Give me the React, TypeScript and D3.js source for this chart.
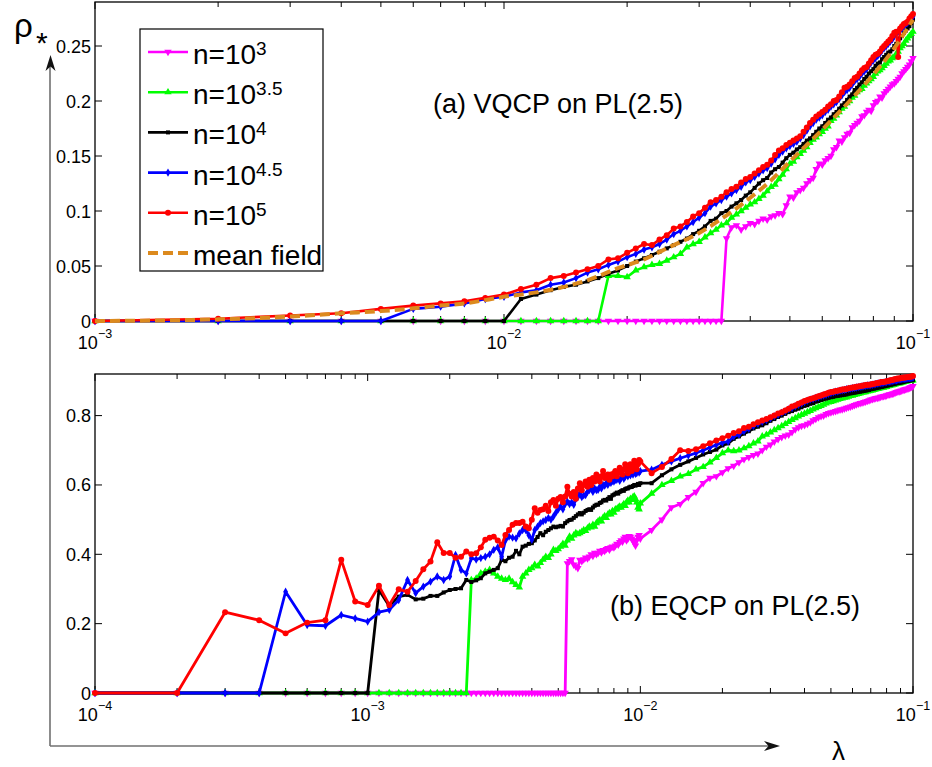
import React from "react";
import * as d3 from "d3";

// ---------- data ----------
// panel (a) lambda grid, in units of 1e-3
const lambdaA_e3 = [1,2,3,4,5,6,7,8,9,10,11,12,13,14,15,16,17,18,19,20,21,22,23,24,25,26,27,28,29,30,31,32,33,34,35,36,37,38,39,40,41,42,43,44,45,46,47,48,49,50,51,52,53,54,55,56,57,58,59,60,61,62,63,64,65,66,67,68,69,70,71,72,73,74,75,76,77,78,79,80,81,82,83,84,85,86,87,88,89,90,91,92,93,94,95,96,97,98,99,100];
// panel (b) lambda grid, in units of 1e-4
const lambdaB_e4 = [1,2,3,4,5,6,7,8,9,10,11,12,13,14,15,16,17,18,19,20,21,22,23,24,25,26,27,28,29,30,31,32,33,34,35,36,37,38,39,40,41,42,43,44,45,46,47,48,49,50,51,52,53,54,55,56,57,58,59,60,61,62,63,64,65,66,67,68,69,70,71,72,73,74,75,76,77,78,79,80,81,82,83,84,85,86,87,88,89,90,91,92,93,94,95,96,97,98,99,100,
  110,120,130,140,150,160,170,180,190,200,210,220,230,240,250,260,270,280,290,300,310,320,330,340,350,360,370,380,390,400,410,420,430,440,450,460,470,480,490,500,510,520,530,540,550,560,570,580,590,600,610,620,630,640,650,660,670,680,690,700,710,720,730,740,750,760,770,780,790,800,810,820,830,840,850,860,870,880,890,900,910,920,930,940,950,960,970,980,990,1000];

const seriesLabels = ["3", "3.5", "4", "4.5", "5"];

// (a) VQCP
const rhoA_n3 = [0,0,0,0,0,0,0,0,0,0,0,0,0,0,0,0,0,0,0,0,0,0,0,0,0,0,0,0,0,0,0,0,0,0,
  0.075,0.085,0.087,0.083,0.086,0.089,0.088,0.091,0.093,0.092,
  0.095,0.096,0.098,0.097,0.105,0.113,0.112,0.117,0.119,0.121,
  0.125,0.128,0.13,0.138,0.143,0.142,0.146,0.148,0.15,0.156,
  0.158,0.164,0.163,0.167,0.17,0.171,0.176,0.178,0.18,0.182,
  0.186,0.187,0.19,0.192,0.191,0.196,0.199,0.2,0.204,0.203,
  0.207,0.209,0.211,0.213,0.215,0.216,0.218,0.22,0.222,0.225,
  0.227,0.229,0.231,0.233,0.236,0.239];
const rhoA_n35 = [0,0,0,0,0,0,0,0,0,0,0,0,0,0,0,0,0,
  0.041,0.041,0.040,0.046,0.049,0.051,0.052,0.055,0.058,0.061,
  0.067,0.070,0.072,0.076,0.080,0.083,0.087,0.089,0.094,0.097,
  0.100,0.103,0.106,0.108,0.111,0.114,0.118,0.122,0.124,0.129,
  0.133,0.138,0.143,0.145,0.149,0.152,0.155,0.158,0.162,0.165,
  0.167,0.170,0.172,0.175,0.177,0.182,0.184,0.187,0.190,0.193,
  0.195,0.198,0.200,0.203,0.205,0.208,0.210,0.211,0.214,0.216,
  0.218,0.220,0.222,0.225,0.227,0.228,0.230,0.232,0.234,0.236,
  0.237,0.239,0.240,0.243,0.245,0.248,0.250,0.252,0.255,0.257,
  0.259,0.261,0.263];
const rhoA_n4 = [0,0,0,0,0,0,0,0,0,0,
  0.020,0.024,0.028,0.031,0.033,0.036,0.039,0.043,0.046,0.050,
  0.054,0.057,0.060,0.063,0.066,0.069,0.072,0.075,0.079,0.082,
  0.086,0.091,0.093,0.098,0.100,0.104,0.107,0.110,0.114,0.117,
  0.121,0.125,0.128,0.130,0.135,0.138,0.140,0.144,0.148,0.151,
  0.153,0.156,0.158,0.161,0.164,0.166,0.169,0.172,0.175,0.177,
  0.180,0.183,0.185,0.188,0.190,0.193,0.196,0.198,0.201,0.204,
  0.206,0.210,0.212,0.215,0.217,0.220,0.222,0.225,0.227,0.229,
  0.232,0.234,0.235,0.238,0.240,0.242,0.244,0.245,0.247,0.250,
  0.252,0.255,0.257,0.259,0.262,0.264,0.266,0.268,0.271,0.274];
const rhoA_n45 = [0,0,0,0,0,
  0.011,0.013,0.016,0.020,0.022,0.026,0.028,0.033,0.035,0.039,
  0.044,0.047,0.051,0.054,0.058,0.061,0.065,0.067,0.070,0.074,
  0.079,0.082,0.086,0.090,0.094,0.098,0.104,0.107,0.110,0.113,
  0.116,0.119,0.122,0.126,0.128,0.131,0.134,0.137,0.139,0.143,
  0.147,0.151,0.154,0.157,0.159,0.161,0.163,0.166,0.169,0.173,
  0.177,0.180,0.183,0.185,0.187,0.190,0.192,0.195,0.197,0.199,
  0.202,0.205,0.208,0.210,0.212,0.215,0.218,0.220,0.222,0.225,
  0.227,0.229,0.232,0.235,0.237,0.239,0.241,0.243,0.246,0.248,
  0.250,0.252,0.254,0.256,0.259,0.261,0.263,0.264,0.266,0.268,
  0.270,0.271,0.273,0.275,0.277];
const rhoA_n5 = [0,0.002,0.005,0.007,0.011,0.014,0.016,0.018,0.021,0.024,
  0.029,0.033,0.039,0.041,0.044,0.047,0.050,0.056,0.057,0.062,
  0.066,0.070,0.069,0.074,0.078,0.084,0.086,0.090,0.095,0.098,
  0.103,0.108,0.110,0.113,0.117,0.120,0.122,0.126,0.129,0.131,
  0.134,0.137,0.140,0.142,0.146,0.151,0.155,0.157,0.160,0.162,
  0.164,0.166,0.168,0.172,0.176,0.180,0.183,0.186,0.188,0.190,
  0.192,0.195,0.197,0.200,0.201,0.204,0.208,0.212,0.213,0.215,
  0.218,0.221,0.222,0.225,0.228,0.230,0.231,0.234,0.237,0.240,
  0.242,0.243,0.245,0.248,0.250,0.252,0.254,0.256,0.259,0.262,
  0.263,0.240,0.266,0.268,0.270,0.271,0.272,0.275,0.277,0.279];

const meanFieldLambda = [0.001,0.002,0.003,0.004,0.005,0.006,0.007,0.008,0.009,0.01,0.012,0.014,0.016,0.019,0.022,0.025,0.03,0.035,0.04,0.045,0.05,0.06,0.07,0.08,0.09,0.1];
const meanFieldRho = [0,0.0015,0.004,0.007,0.009,0.0115,0.014,0.016,0.019,0.022,0.026,0.031,0.037,0.048,0.056,0.066,0.08,0.096,0.112,0.128,0.145,0.174,0.2,0.224,0.248,0.274];

// (b) EQCP
const rhoB_n3 = [0,0,0,0,0,0,0,0,0,
  0,0,0,0,0,0,0,0,0,0,0,0,0,0,0,0,0,0,0,0,0,0,0,0,0,0,0,0,0,0,0,0,0,0,0,0,0,0,0,0,0,0,0,0,
  0.374,0.38,0.385,0.37,0.365,0.36,0.384,0.38,0.385,0.39,
  0.388,0.393,0.40,0.395,0.404,0.40,0.404,0.41,0.405,0.412,
  0.41,0.415,0.418,0.413,0.42,0.422,0.42,0.425,0.43,0.428,
  0.435,0.44,0.436,0.445,0.45,0.44,0.445,0.452,0.45,0.445,
  0.44,0.432,0.425,0.44,0.45,0.455,0.445,
  0.47,0.50,0.535,0.545,0.565,0.58,0.605,0.62,0.625,0.636,
  0.648,0.655,0.665,0.674,0.68,0.686,0.69,0.70,0.71,0.716,
  0.725,0.732,0.738,0.742,0.745,0.752,0.76,0.766,0.77,0.772,
  0.776,0.78,0.786,0.79,0.795,0.798,0.80,0.804,0.807,0.809,
  0.811,0.813,0.815,0.817,0.818,0.82,0.822,0.824,0.826,0.828,
  0.83,0.832,0.834,0.836,0.837,0.839,0.84,0.842,0.844,0.846,
  0.847,0.849,0.85,0.851,0.852,0.854,0.855,0.856,0.857,0.858,
  0.86,0.861,0.862,0.863,0.864,0.866,0.868,0.869,0.87,0.871,
  0.872,0.874,0.875,0.876,0.877,0.878,0.88,0.881,0.883,0.885];
const rhoB_n35 = [0,0,0,0,0,0,0,0,0,
  0,0,0,0,0,0,0,0,0,0,0,0,0,0,
  0.326,0.33,0.345,0.35,0.355,0.345,0.336,0.33,0.326,0.33,
  0.32,0.312,0.305,0.336,0.345,0.355,0.36,0.37,0.365,0.375,
  0.385,0.393,0.39,0.40,0.413,0.41,0.415,0.422,0.43,0.425,
  0.44,0.451,0.445,0.455,0.461,0.458,0.461,0.465,0.47,0.468,
  0.475,0.48,0.478,0.485,0.48,0.49,0.495,0.499,0.495,0.505,
  0.51,0.505,0.515,0.519,0.515,0.525,0.52,0.53,0.53,0.535,
  0.538,0.535,0.54,0.545,0.54,0.55,0.555,0.55,0.56,0.557,
  0.565,0.567,0.56,0.55,0.535,0.53,0.547,
  0.575,0.60,0.612,0.625,0.632,0.645,0.652,0.665,0.678,0.692,
  0.70,0.698,0.70,0.706,0.712,0.72,0.726,0.74,0.745,0.752,
  0.758,0.764,0.77,0.776,0.782,0.788,0.793,0.798,0.802,0.806,
  0.81,0.814,0.818,0.822,0.825,0.828,0.832,0.835,0.838,0.84,
  0.842,0.844,0.846,0.848,0.85,0.852,0.853,0.855,0.857,0.858,
  0.86,0.861,0.863,0.864,0.866,0.867,0.868,0.87,0.871,0.872,
  0.873,0.874,0.876,0.877,0.878,0.879,0.88,0.881,0.882,0.883,
  0.885,0.886,0.887,0.888,0.889,0.89,0.892,0.893,0.893,0.894,
  0.895,0.896,0.897,0.898,0.899,0.90,0.90,0.901,0.901,0.902];
const rhoB_n4 = [0,0,0,0,0,0,0,0,0,
  0,0.297,0.251,0.278,0.283,0.27,0.272,0.28,0.28,0.29,
  0.297,0.30,0.302,0.326,0.32,0.325,0.331,0.345,0.35,0.355,
  0.36,0.384,0.38,0.39,0.393,0.41,0.40,0.422,0.425,0.43,
  0.432,0.44,0.45,0.461,0.455,0.465,0.47,0.475,0.48,0.478,
  0.48,0.482,0.48,0.49,0.495,0.499,0.50,0.505,0.51,0.515,
  0.519,0.515,0.52,0.525,0.528,0.53,0.528,0.535,0.54,0.543,
  0.543,0.548,0.55,0.555,0.557,0.555,0.56,0.565,0.56,0.57,
  0.572,0.575,0.578,0.575,0.58,0.582,0.585,0.583,0.588,0.59,
  0.59,0.593,0.595,0.594,0.597,0.60,0.598,0.60,0.603,0.60,
  0.605,
  0.605,0.628,0.645,0.658,0.668,0.678,0.688,0.695,0.702,0.714,
  0.72,0.733,0.74,0.748,0.755,0.763,0.768,0.772,0.778,0.785,
  0.79,0.796,0.80,0.805,0.81,0.813,0.817,0.82,0.824,0.828,
  0.83,0.834,0.836,0.84,0.842,0.845,0.847,0.849,0.851,0.853,
  0.854,0.856,0.857,0.858,0.859,0.86,0.861,0.863,0.864,0.865,
  0.866,0.867,0.868,0.869,0.87,0.871,0.872,0.873,0.874,0.876,
  0.877,0.878,0.879,0.88,0.881,0.882,0.883,0.884,0.885,0.886,
  0.887,0.888,0.889,0.89,0.891,0.892,0.893,0.894,0.894,0.895,
  0.896,0.897,0.898,0.899,0.90,0.90,0.901,0.902,0.902,0.903];
const rhoB_n45 = [0,0,0,0,0.292,0.196,0.194,0.225,0.215,
  0.206,0.233,0.24,0.268,0.326,0.288,0.307,0.321,0.336,0.326,
  0.336,0.398,0.355,0.345,0.389,0.385,0.389,0.393,0.40,0.413,
  0.42,0.393,0.44,0.451,0.448,0.446,0.46,0.47,0.47,0.455,
  0.442,0.47,0.48,0.49,0.495,0.499,0.505,0.50,0.509,0.52,
  0.53,0.538,0.53,0.545,0.552,0.545,0.55,0.543,0.56,0.565,
  0.576,0.565,0.57,0.571,0.58,0.585,0.591,0.58,0.59,0.585,
  0.586,0.595,0.59,0.60,0.598,0.605,0.60,0.61,0.606,0.612,
  0.61,0.615,0.615,0.62,0.612,0.62,0.625,0.618,0.624,0.63,
  0.625,0.632,0.628,0.635,0.63,0.638,0.632,0.634,0.64,0.636,
  0.64,
  0.644,0.658,0.668,0.677,0.685,0.692,0.70,0.708,0.716,0.722,
  0.725,0.74,0.745,0.755,0.762,0.77,0.776,0.782,0.787,0.792,
  0.798,0.802,0.808,0.812,0.818,0.822,0.827,0.831,0.835,0.839,
  0.843,0.846,0.848,0.851,0.853,0.856,0.858,0.86,0.863,0.865,
  0.867,0.869,0.87,0.872,0.873,0.874,0.876,0.877,0.878,0.879,
  0.88,0.881,0.882,0.883,0.884,0.885,0.886,0.887,0.887,0.888,
  0.889,0.89,0.891,0.892,0.893,0.894,0.894,0.895,0.896,0.897,
  0.898,0.898,0.899,0.90,0.901,0.902,0.902,0.903,0.904,0.905,
  0.905,0.906,0.906,0.907,0.907,0.908,0.908,0.909,0.909,0.91];
const rhoB_n5 = [0,0,0.233,0.21,0.172,0.203,0.21,0.384,0.264,
  0.254,0.309,0.254,0.299,0.292,0.323,0.357,0.379,0.435,0.404,
  0.404,0.39,0.393,0.408,0.40,0.403,0.42,0.442,0.448,0.451,
  0.44,0.427,0.456,0.47,0.485,0.49,0.49,0.494,0.48,0.475,
  0.50,0.533,0.52,0.528,0.53,0.54,0.525,0.55,0.557,0.54,
  0.56,0.565,0.55,0.567,0.595,0.575,0.567,0.58,0.56,0.59,
  0.605,0.585,0.60,0.61,0.595,0.615,0.60,0.62,0.61,0.63,
  0.62,0.61,0.625,0.64,0.62,0.625,0.63,0.615,0.63,0.625,
  0.634,0.64,0.625,0.635,0.65,0.64,0.63,0.645,0.66,0.645,
  0.634,0.65,0.66,0.64,0.655,0.67,0.65,0.645,0.66,0.672,
  0.668,
  0.634,0.652,0.675,0.70,0.698,0.703,0.712,0.72,0.728,0.735,
  0.742,0.75,0.755,0.764,0.768,0.775,0.781,0.786,0.79,0.795,
  0.80,0.806,0.81,0.815,0.82,0.826,0.829,0.834,0.838,0.842,
  0.845,0.848,0.85,0.853,0.856,0.858,0.861,0.863,0.866,0.868,
  0.869,0.871,0.872,0.874,0.875,0.876,0.877,0.879,0.88,0.881,
  0.882,0.883,0.884,0.885,0.886,0.887,0.888,0.889,0.889,0.89,
  0.891,0.892,0.893,0.894,0.895,0.896,0.897,0.897,0.898,0.899,
  0.90,0.901,0.902,0.903,0.904,0.905,0.906,0.907,0.907,0.908,
  0.909,0.909,0.91,0.91,0.911,0.911,0.912,0.912,0.913,0.914];

const yTicksA = [0, 0.05, 0.1, 0.15, 0.2, 0.25];
const yTickLabelsA = ["0", "0.05", "0.1", "0.15", "0.2", "0.25"];
const yTicksB = [0, 0.2, 0.4, 0.6, 0.8];
const yTickLabelsB = ["0", "0.2", "0.4", "0.6", "0.8"];

// ---------- styles ----------
const FONT = "'Liberation Sans', Arial, Helvetica, sans-serif";
const STYLES = [
  { color: "#ff00ff", marker: "down" },
  { color: "#00ff00", marker: "up" },
  { color: "#000000", marker: "square" },
  { color: "#0000ff", marker: "diamond" },
  { color: "#ff0000", marker: "circle" },
];
const MF_COLOR = "#dc8a1e";

function markerPath(type: string) {
  const sym =
    type === "circle" ? d3.symbolCircle :
    type === "square" ? d3.symbolSquare :
    type === "diamond" ? d3.symbolDiamond : d3.symbolTriangle;
  const size = type === "circle" ? 28 : type === "square" ? 16 : type === "diamond" ? 20 : 24;
  return d3.symbol(sym, size)() as string;
}

function Marker({ type, x, y, color }: any) {
  const rot = type === "down" ? " rotate(180)" : "";
  return <path d={markerPath(type)} transform={`translate(${x},${y})${rot}`} fill={color} />;
}

function Panel(props: any) {
  const { x0, x1, y0, y1, xDomain, yMax, lambdas, series, yTicks, yTickLabels, meanField, title, titleX, titleY, lineW } = props;
  const xs = d3.scaleLog().domain(xDomain).range([x0, x1]);
  const ys = d3.scaleLinear().domain([0, yMax]).range([y1, y0]);
  const line = d3.line<[number, number]>().x((d) => xs(d[0])).y((d) => ys(d[1]));
  const allTicks = xs.ticks();
  const isMajor = (t: number) => Math.abs(Math.log10(t) - Math.round(Math.log10(t))) < 1e-6;
  const majors = allTicks.filter(isMajor);
  return (
    <g>
      <rect x={x0} y={y0} width={x1 - x0} height={y1 - y0} fill="#fff" stroke="#000" strokeWidth={1.3} />
      {allTicks.map((t: number, i: number) => {
        const L = isMajor(t) ? 7 : 5;
        const x = xs(t);
        return (
          <g key={"xt" + i} stroke="#000" strokeWidth={1}>
            <line x1={x} x2={x} y1={y1} y2={y1 - L} />
            <line x1={x} x2={x} y1={y0} y2={y0 + L} />
          </g>
        );
      })}
      {yTicks.map((t: number, i: number) => (
        <g key={"yt" + i} stroke="#000" strokeWidth={1}>
          <line x1={x0} x2={x0 + 7} y1={ys(t)} y2={ys(t)} />
          <line x1={x1} x2={x1 - 7} y1={ys(t)} y2={ys(t)} />
        </g>
      ))}
      {yTicks.map((t: number, i: number) => (
        <text key={"yl" + i} x={x0 - 4} y={ys(t) + 6.5} textAnchor="end" fontSize={18} fill="#000">
          {yTickLabels[i]}
        </text>
      ))}
      {majors.map((t: number, i: number) => (
        <text key={"xl" + i} x={xs(t)} y={y1 + 28} textAnchor="middle" fontSize={18} fill="#000">
          <tspan>10</tspan>
          <tspan dy={-11} fontSize={12.5}>{"\u2212" + Math.round(-Math.log10(t))}</tspan>
        </text>
      ))}
      {series.map((vals: number[], si: number) => {
        const st = STYLES[si];
        const pts: [number, number][] = lambdas.map((l: number, i: number) => [l, vals[i]] as [number, number]).filter((p: any) => p[1] !== undefined);
        return (
          <g key={"s" + si}>
            <path d={line(pts) as string} fill="none" stroke={st.color} strokeWidth={lineW} strokeLinejoin="round" />
            {pts.map((p, i) => (
              <Marker key={i} type={st.marker} x={xs(p[0])} y={ys(p[1])} color={st.color} />
            ))}
          </g>
        );
      })}
      {meanField && (
        <path
          d={d3.line<[number, number]>().x((d) => xs(d[0])).y((d) => ys(d[1])).curve(d3.curveMonotoneX)(
            meanField[0].map((l: number, i: number) => [l, meanField[1][i]] as [number, number])
          ) as string}
          fill="none" stroke={MF_COLOR} strokeWidth={4} strokeDasharray="10 5"
        />
      )}
      <text x={titleX} y={titleY} fontSize={27} fill="#000">{title}</text>
    </g>
  );
}

function Legend() {
  const x = 140, y = 29, w = 183, h = 242;
  const rows = [...seriesLabels, "mf"];
  return (
    <g>
      <rect x={x} y={y} width={w} height={h} fill="#fff" stroke="#000" strokeWidth={1.2} />
      {rows.map((lab, i) => {
        const cy = 52 + i * 40.2;
        const isMF = lab === "mf";
        return (
          <g key={i}>
            {isMF ? (
              <line x1={148} x2={188} y1={cy} y2={cy} stroke={MF_COLOR} strokeWidth={4} strokeDasharray="10 5" />
            ) : (
              <g>
                <line x1={148} x2={188} y1={cy} y2={cy} stroke={STYLES[i].color} strokeWidth={2.6} />
                <Marker type={STYLES[i].marker} x={168} y={cy} color={STYLES[i].color} />
              </g>
            )}
            <text x={193} y={cy + 12} fontSize={28} fill="#000">
              {isMF ? "mean field" : (
                <>
                  <tspan>n=10</tspan>
                  <tspan dy={-9} fontSize={19}>{lab}</tspan>
                </>
              )}
            </text>
          </g>
        );
      })}
    </g>
  );
}

export default function App() {
  const lamA = lambdaA_e3.map((v) => v * 1e-3);
  const lamB = lambdaB_e4.map((v) => v * 1e-4);
  const seriesA = [rhoA_n3, rhoA_n35, rhoA_n4, rhoA_n45, rhoA_n5];
  const seriesB = [rhoB_n3, rhoB_n35, rhoB_n4, rhoB_n45, rhoB_n5];
  return (
    <svg width={932} height={767} style={{ position: "absolute", left: 0, top: 0 }} fontFamily={FONT}>
      <rect x={0} y={0} width={932} height={767} fill="#fff" />
      {/* outer axis arrows */}
      <line x1={50} y1={746} x2={50} y2={62} stroke="#707070" strokeWidth={1.6} />
      <path d="M50.5,55 L45.5,71 L50.5,66.5 L55.5,71 Z" fill="#111" />
      <line x1={50} y1={746} x2={772} y2={746} stroke="#707070" strokeWidth={1.6} />
      <path d="M780,746 L764,741 L768.5,746 L764,751 Z" fill="#111" />
      <text x={14} y={37} fontSize={33} fill="#000">ρ</text>
      <text x={36} y={53} fontSize={30} fill="#000">*</text>
      <text x={832} y={760} fontSize={26} fill="#000">λ</text>

      <Panel
        x0={95} x1={913} y0={2} y1={321}
        xDomain={[1e-3, 1e-1]} yMax={0.29}
        lambdas={lamA} series={seriesA}
        yTicks={yTicksA} yTickLabels={yTickLabelsA}
        meanField={[meanFieldLambda, meanFieldRho]}
        title="(a) VQCP on PL(2.5)" titleX={433} titleY={113} lineW={2.6}
      />
      <Panel
        x0={95} x1={913} y0={374} y1={693}
        xDomain={[1e-4, 1e-1]} yMax={0.92}
        lambdas={lamB} series={seriesB}
        yTicks={yTicksB} yTickLabels={yTickLabelsB}
        title="(b) EQCP on PL(2.5)" titleX={610} titleY={615} lineW={2.8}
      />
      <Legend />
    </svg>
  );
}
